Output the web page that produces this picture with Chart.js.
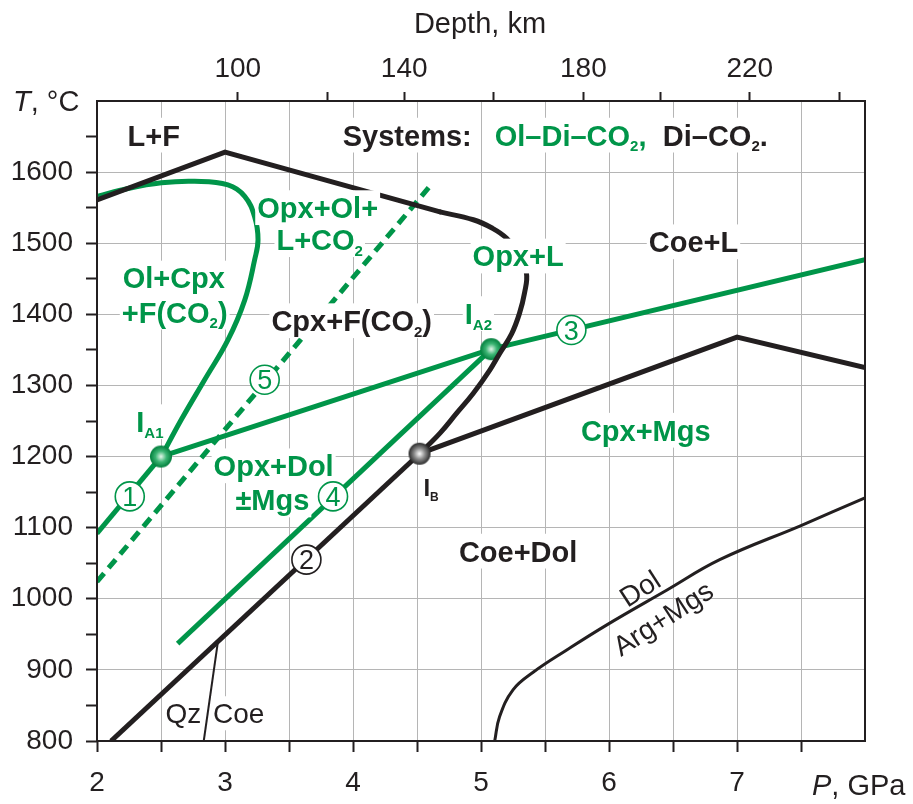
<!DOCTYPE html>
<html>
<head>
<meta charset="utf-8">
<script src="https://cdn.jsdelivr.net/npm/chart.js@4.4.1/dist/chart.umd.min.js"></script>
<style>
  body { margin: 0; background: #fff; }
</style>
</head>
<body>
<canvas id="phaseChart" width="913" height="804"></canvas>
<script>
// P in GPa, T in degC
var meltP = [2.0, 3.0, 4.68];
var meltT = [1561, 1628, 1544];
var meltBendP = [4.68, 4.94, 5.09, 5.20, 5.29, 5.355, 5.34, 5.30, 5.24, 5.146, 5.07, 4.94, 4.81, 4.68, 4.52];
var meltBendT = [1544, 1533, 1521, 1507, 1485, 1458, 1430, 1401, 1373, 1345, 1322, 1289, 1261, 1233, 1204];
var line2P = [2.11, 4.52];
var line2T = [800, 1204];
var mgsP = [4.52, 7.0, 8.0];
var mgsT = [1204, 1368, 1325];
var qzP = [2.834, 2.945];
var qzT = [800, 940];
var dolP = [5.107, 5.145, 5.25, 5.41, 5.67, 5.98, 6.45, 6.865, 7.5, 8.0];
var dolT = [800, 834, 872, 897, 928, 963, 1012, 1055, 1103, 1142];

var loopP = [2.008, 2.242, 2.503, 2.763, 3.023, 3.154, 3.232, 3.258, 3.232, 3.154, 3.023, 2.841, 2.659, 2.503];
var loopT = [1566, 1577, 1585, 1587, 1582, 1566, 1537, 1505, 1477, 1420, 1364, 1308, 1252, 1200];
var line1P = [2.0, 2.5];
var line1T = [1092, 1200];
var line3P = [2.5, 5.08, 8.0];
var line3T = [1200, 1351, 1477];
var line4P = [2.63, 5.08];
var line4T = [937, 1351];
var line5P = [2.0, 4.6];
var line5T = [1024, 1580];

var invGreenP = [2.5, 5.08];
var invGreenT = [1200, 1351];
var invBlackP = [4.52];
var invBlackT = [1204];

var depthKm = [100, 120, 140, 160, 180, 200, 220, 240];
var depthP = [3.10, 3.80, 4.40, 5.10, 5.80, 6.40, 7.10, 7.80];

var green = '#009549';
var black = '#231f20';
var gridGray = '#b5b5b5';
var font = "'Liberation Sans', Arial, Helvetica, sans-serif";

function pts(P, T) {
  return P.map(function (p, i) { return {x: p, y: T[i]}; });
}

function line(P, T, color, width, extra) {
  var ds = {
    data: pts(P, T), showLine: true, borderColor: color, borderWidth: width,
    pointRadius: 0, fill: false, tension: 0
  };
  for (var k in extra) ds[k] = extra[k];
  return ds;
}

function sphere(inner, mid, outer) {
  var c = document.createElement('canvas');
  c.width = c.height = 24;
  var g = c.getContext('2d');
  var grad = g.createRadialGradient(12, 12, 0, 12, 12, 11);
  grad.addColorStop(0, inner);
  grad.addColorStop(0.5, mid);
  grad.addColorStop(1, outer);
  g.fillStyle = grad;
  g.beginPath();
  g.arc(12, 12, 11, 0, Math.PI * 2);
  g.fill();
  return c;
}

var fieldLabels = [
  {text: 'L+F', p: 2.443, t: 1652, color: black},
  {text: 'Systems:', p: 3.92, t: 1652, align: 'left', color: black},
  {text: 'Ol–Di–CO_{2},', p: 5.107, t: 1652, align: 'left', color: green},
  {text: 'Di–CO_{2}.', p: 6.42, t: 1652, align: 'left', color: black},
  {text: 'Ol+Cpx', p: 2.60, t: 1451, color: green},
  {text: '+F(CO_{2})', p: 2.607, t: 1403, color: green},
  {text: 'Opx+Ol+', p: 3.724, t: 1550, color: green},
  {text: 'L+CO_{2}', p: 3.74, t: 1505, color: green},
  {text: 'Cpx+F(CO_{2})', p: 3.99, t: 1391, color: black},
  {text: 'Opx+L', p: 5.29, t: 1482, color: green},
  {text: 'Coe+L', p: 6.66, t: 1502, color: black},
  {text: 'Cpx+Mgs', p: 6.287, t: 1237, color: green},
  {text: 'Opx+Dol', p: 3.38, t: 1187, color: green},
  {text: '±Mgs', p: 3.37, t: 1139, color: green},
  {text: 'Coe+Dol', p: 5.29, t: 1067, color: black},
  {text: 'I_{A1}', p: 2.307, t: 1249, align: 'left', color: green},
  {text: 'I_{A2}', p: 4.873, t: 1401, align: 'left', color: green},
  {text: 'I_{B}', p: 4.55, t: 1156, align: 'left', color: black, size: 24},
  {text: 'Qz', p: 2.675, t: 839, bold: false, size: 28, color: black},
  {text: 'Coe', p: 3.107, t: 839, bold: false, size: 28, color: black},
  {text: 'Dol', p: 6.24, t: 1015, bold: false, size: 28, rot: -33, bg: false, color: black},
  {text: 'Arg+Mgs', p: 6.42, t: 973, bold: false, size: 28, rot: -33, bg: false, color: black}
];

var circled = [
  {n: '1', p: 2.256, t: 1144, color: green},
  {n: '2', p: 3.636, t: 1055, color: black},
  {n: '3', p: 5.706, t: 1378, color: green},
  {n: '4', p: 3.844, t: 1144, color: green},
  {n: '5', p: 3.31, t: 1308, color: green}
];

function drawRich(ctx, text, x, y, o) {
  var size = o.size || 29;
  var weight = o.bold === false ? 'normal' : 'bold';
  var mainFont = weight + ' ' + size + 'px ' + font;
  var subFont = weight + ' ' + Math.round(size * 0.52) + 'px ' + font;
  var parts = [], re = /_\{([^}]*)\}/g, last = 0, m;
  while ((m = re.exec(text))) {
    if (m.index > last) parts.push({t: text.slice(last, m.index), sub: false});
    parts.push({t: m[1], sub: true});
    last = re.lastIndex;
  }
  if (last < text.length) parts.push({t: text.slice(last), sub: false});
  var w = 0;
  parts.forEach(function (p) {
    ctx.font = p.sub ? subFont : mainFont;
    p.w = ctx.measureText(p.t).width;
    w += p.w;
  });
  var cap = size * 0.716;
  ctx.save();
  ctx.translate(x, y);
  if (o.rot) ctx.rotate(o.rot * Math.PI / 180);
  var x0 = o.align === 'left' ? 0 : -w / 2;
  var base = cap / 2;
  if (o.bg !== false) {
    ctx.fillStyle = '#fff';
    ctx.fillRect(x0 - 2, base - cap - 7, w + 4, cap + 14);
  }
  ctx.fillStyle = o.color;
  ctx.textAlign = 'left';
  ctx.textBaseline = 'alphabetic';
  var cx = x0;
  parts.forEach(function (p) {
    ctx.font = p.sub ? subFont : mainFont;
    ctx.fillText(p.t, cx, p.sub ? base + size * 0.2 : base);
    cx += p.w;
  });
  ctx.restore();
}

function drawTitle(ctx, italic, rest, x, baseline) {
  ctx.fillStyle = black;
  ctx.textAlign = 'left';
  ctx.textBaseline = 'alphabetic';
  var cx = x;
  if (italic) {
    ctx.font = 'italic 29px ' + font;
    ctx.fillText(italic, cx, baseline);
    cx += ctx.measureText(italic).width;
  }
  ctx.font = '29px ' + font;
  ctx.fillText(rest, cx, baseline);
}

var labelPlugin = {
  id: 'phaseLabels',
  afterDatasetsDraw: function (chart) {
    var ctx = chart.ctx, a = chart.chartArea;
    var xs = chart.scales.x, ys = chart.scales.y;
    ctx.save();
    ctx.strokeStyle = black;
    ctx.lineWidth = 2;
    ctx.strokeRect(a.left, a.top, a.right - a.left, a.bottom - a.top);
    fieldLabels.forEach(function (l) {
      drawRich(ctx, l.text, xs.getPixelForValue(l.p), ys.getPixelForValue(l.t), l);
    });
    circled.forEach(function (c) {
      var px = xs.getPixelForValue(c.p), py = ys.getPixelForValue(c.t);
      ctx.beginPath();
      ctx.arc(px, py, 14.5, 0, Math.PI * 2);
      ctx.fillStyle = '#fff';
      ctx.fill();
      ctx.lineWidth = 1.6;
      ctx.strokeStyle = c.color;
      ctx.stroke();
      ctx.font = '27px ' + font;
      ctx.fillStyle = c.color;
      ctx.textAlign = 'center';
      ctx.textBaseline = 'alphabetic';
      ctx.fillText(c.n, px, py + 27 * 0.358);
    });
    ctx.restore();
  },
  afterDraw: function (chart) {
    var ctx = chart.ctx;
    ctx.save();
    drawTitle(ctx, 'T', ', °C', 13, 111);
    drawTitle(ctx, 'P', ', GPa', 812, 795);
    ctx.font = '29px ' + font;
    ctx.textAlign = 'center';
    ctx.fillStyle = black;
    ctx.fillText('Depth, km', 480, 33);
    ctx.restore();
  }
};

var tickFont = {family: font, size: 28};

new Chart(document.getElementById('phaseChart'), {
  type: 'scatter',
  data: {
    datasets: [
      {data: pts(invBlackP, invBlackT), pointStyle: sphere('#ffffff', '#8a8a8a', '#2a2a2a'), pointRadius: 11, order: 0},
      line(meltP, meltT, black, 5, {order: 1, borderCapStyle: 'round'}),
      line(meltBendP, meltBendT, black, 5, {order: 1, tension: 0.4, borderCapStyle: 'round'}),
      line(line2P, line2T, black, 5, {order: 1}),
      line(mgsP, mgsT, black, 5, {order: 1}),
      line(qzP, qzT, black, 2, {order: 1}),
      line(dolP, dolT, black, 3, {order: 1, tension: 0.4}),
      {data: pts(invGreenP, invGreenT), pointStyle: sphere('#e6f7ec', '#3cb574', '#007d3b'), pointRadius: 11, order: 2},
      line(loopP, loopT, green, 5, {order: 3, tension: 0.4}),
      line(line1P, line1T, green, 5, {order: 3}),
      line(line3P, line3T, green, 5, {order: 3}),
      line(line4P, line4T, green, 5, {order: 3}),
      line(line5P, line5T, green, 5, {order: 3, borderDash: [11, 7]})
    ]
  },
  options: {
    responsive: false,
    animation: false,
    devicePixelRatio: 1,
    layout: {padding: {left: 0, right: 48, top: 0, bottom: 0}},
    plugins: {legend: {display: false}, tooltip: {enabled: false}},
    scales: {
      x: {
        type: 'linear', position: 'bottom', min: 2, max: 8,
        afterFit: function (s) { s.height = 63; },
        ticks: {
          stepSize: 0.5, autoSkip: false, maxRotation: 0, padding: 14,
          font: tickFont, color: black,
          callback: function (v) { return (Number.isInteger(v) && v < 8) ? v : ''; }
        },
        grid: {
          color: gridGray, lineWidth: 1, tickLength: 11, tickWidth: 2,
          tickColor: function (c) { return c.tick && c.tick.value === 8 ? 'rgba(0,0,0,0)' : black; }
        },
        border: {display: false}
      },
      x2: {
        type: 'linear', position: 'top', min: 2, max: 8,
        afterFit: function (s) { s.height = 101; },
        afterBuildTicks: function (s) {
          s.ticks = depthP.map(function (p) { return {value: p}; });
        },
        ticks: {
          autoSkip: false, maxRotation: 0, padding: 6, font: tickFont, color: black,
          callback: function (v, i) { return (depthKm[i] - 100) % 40 === 0 ? String(depthKm[i]) : ''; }
        },
        grid: {drawOnChartArea: false, tickLength: 9, tickWidth: 2, tickColor: black},
        border: {display: false}
      },
      y: {
        type: 'linear', position: 'left', min: 800, max: 1700,
        afterFit: function (s) { s.width = 97; },
        ticks: {
          stepSize: 50, autoSkip: false, padding: 13, font: tickFont, color: black,
          callback: function (v) { return (v % 100 === 0 && v < 1700) ? v : ''; }
        },
        grid: {
          lineWidth: 1, tickLength: 11, tickWidth: 2,
          color: function (c) { return c.tick && c.tick.value % 100 === 0 ? gridGray : 'rgba(0,0,0,0)'; },
          tickColor: function (c) { return c.tick && c.tick.value === 1700 ? 'rgba(0,0,0,0)' : black; }
        },
        border: {display: false}
      }
    }
  },
  plugins: [labelPlugin]
});
</script>
</body>
</html>
